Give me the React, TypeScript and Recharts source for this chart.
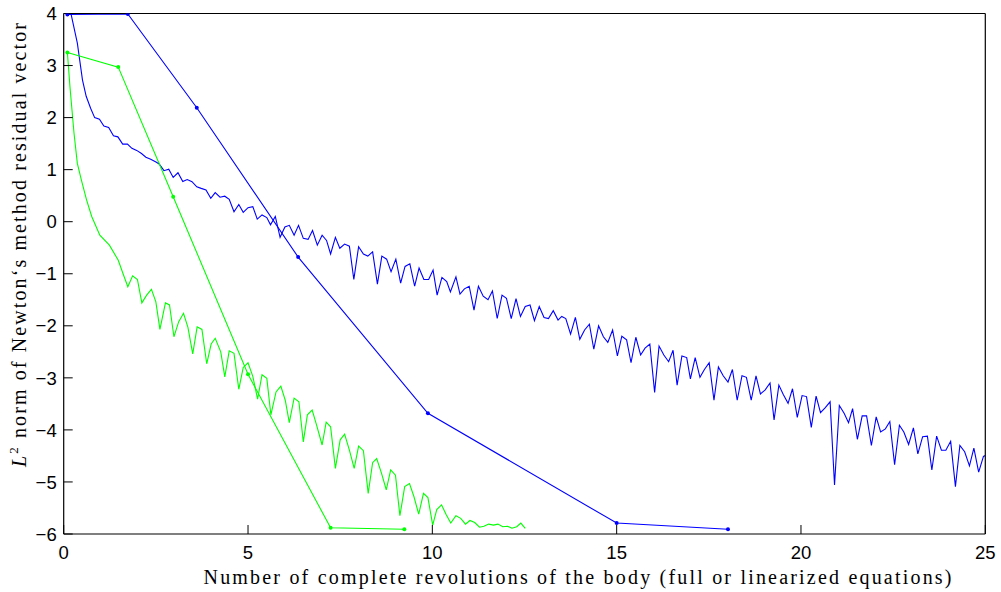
import React from 'react';
import { LineChart, Line, XAxis, YAxis } from 'recharts';

// ---- data (x = revolutions, y = log10 of L2 norm of residual) ----
const xTicks = [0, 5, 10, 15, 20, 25];
const yTicks = [-6, -5, -4, -3, -2, -1, 0, 1, 2, 3, 4];

const blueFull: [number, number][] = [
  [0.1, 3.98], [1.74, 3.99], [3.61, 2.19], [6.36, -0.68], [9.88, -3.68], [15.0, -5.79], [18.02, -5.91],
];

const greenFull: [number, number][] = [
  [0.1, 3.25], [1.48, 2.97], [2.97, 0.48], [5.0, -2.93], [7.24, -5.88], [9.24, -5.91],
];

const blueLinearized: [number, number][] = [
  [0.2, 3.99], [0.37, 3.43], [0.51, 2.72], [0.61, 2.41], [0.73, 2.18], [0.84, 2.0], [0.97, 1.97],
  [1.09, 1.84], [1.22, 1.81], [1.35, 1.65], [1.47, 1.63], [1.6, 1.49], [1.73, 1.49], [1.85, 1.41],
  [1.98, 1.37], [2.11, 1.31], [2.23, 1.24], [2.36, 1.2], [2.49, 1.15], [2.59, 1.11], [2.72, 0.98],
  [2.85, 1.01], [2.97, 0.85], [3.1, 0.94], [3.23, 0.77], [3.35, 0.81], [3.48, 0.77], [3.61, 0.67],
  [3.73, 0.64], [3.86, 0.61], [3.99, 0.45], [4.11, 0.56], [4.24, 0.47], [4.37, 0.49], [4.49, 0.43],
  [4.62, 0.19], [4.75, 0.33], [4.87, 0.18], [5.0, 0.27], [5.13, 0.29], [5.25, 0.05], [5.38, 0.13],
  [5.51, 0.08], [5.61, -0.06], [5.74, 0.1], [5.87, -0.3], [6.0, -0.1], [6.12, -0.07], [6.25, -0.26],
  [6.37, -0.07], [6.5, -0.32], [6.63, -0.34], [6.75, -0.17], [6.88, -0.45], [7.01, -0.26], [7.13, -0.36],
  [7.24, -0.62], [7.37, -0.3], [7.49, -0.51], [7.62, -0.43], [7.75, -0.47], [7.87, -1.11], [8.0, -0.48],
  [8.13, -0.62], [8.25, -0.66], [8.38, -0.58], [8.51, -1.2], [8.63, -0.66], [8.76, -0.72], [8.88, -0.96],
  [9.01, -0.72], [9.14, -1.18], [9.26, -0.86], [9.39, -0.81], [9.52, -1.24], [9.64, -0.89], [9.77, -1.11],
  [9.9, -1.11], [10.02, -0.93], [10.13, -1.41], [10.26, -1.07], [10.39, -1.15], [10.49, -1.35], [10.64, -1.06],
  [10.75, -1.39], [10.87, -1.29], [11.0, -1.24], [11.13, -1.7], [11.25, -1.24], [11.38, -1.43], [11.51, -1.5],
  [11.63, -1.33], [11.76, -1.86], [11.89, -1.41], [12.01, -1.47], [12.14, -1.86], [12.27, -1.48], [12.39, -1.82],
  [12.52, -1.63], [12.65, -1.6], [12.77, -1.9], [12.9, -1.63], [13.03, -1.84], [13.15, -1.86], [13.28, -1.71],
  [13.41, -1.89], [13.51, -1.82], [13.62, -1.86], [13.75, -2.16], [13.88, -1.84], [14.0, -2.26], [14.13, -2.08],
  [14.26, -1.97], [14.38, -2.45], [14.51, -2.0], [14.64, -2.21], [14.76, -2.32], [14.89, -2.08], [15.02, -2.58],
  [15.14, -2.2], [15.27, -2.27], [15.39, -2.71], [15.52, -2.22], [15.65, -2.56], [15.77, -2.43], [15.9, -2.35],
  [16.03, -3.28], [16.15, -2.39], [16.28, -2.56], [16.41, -2.69], [16.53, -2.47], [16.64, -3.14], [16.77, -2.58],
  [16.9, -2.61], [17.0, -3.02], [17.13, -2.61], [17.26, -2.99], [17.38, -2.84], [17.51, -2.71], [17.64, -3.43],
  [17.76, -2.79], [17.89, -2.96], [18.02, -3.08], [18.14, -2.84], [18.27, -3.43], [18.4, -2.96], [18.52, -2.99],
  [18.65, -3.43], [18.78, -2.96], [18.9, -3.31], [19.03, -3.23], [19.16, -3.1], [19.27, -3.81], [19.4, -3.14],
  [19.52, -3.32], [19.65, -3.49], [19.77, -3.21], [19.9, -3.76], [20.03, -3.34], [20.15, -3.36], [20.28, -3.95],
  [20.41, -3.35], [20.53, -3.67], [20.66, -3.57], [20.79, -3.46], [20.91, -5.06], [21.04, -3.53], [21.17, -3.68],
  [21.29, -3.86], [21.4, -3.59], [21.53, -4.18], [21.66, -3.73], [21.78, -3.73], [21.91, -4.3], [22.04, -3.75],
  [22.16, -4.04], [22.29, -3.98], [22.41, -3.84], [22.54, -4.67], [22.67, -3.91], [22.79, -4.04], [22.92, -4.28],
  [23.05, -3.96], [23.17, -4.46], [23.3, -4.13], [23.43, -4.12], [23.55, -4.77], [23.68, -4.12], [23.81, -4.39],
  [23.93, -4.39], [24.06, -4.22], [24.19, -5.09], [24.31, -4.3], [24.44, -4.42], [24.57, -4.69], [24.69, -4.35],
  [24.82, -4.81], [24.95, -4.51], [25.0, -4.49],
];

const greenLinearized: [number, number][] = [
  [0.1, 3.25], [0.17, 2.59], [0.28, 1.7], [0.37, 1.12], [0.48, 0.8], [0.62, 0.42], [0.76, 0.1],
  [0.98, -0.26], [1.24, -0.45], [1.48, -0.74], [1.62, -1.02], [1.74, -1.25], [1.87, -1.04], [2.0, -1.11],
  [2.12, -1.56], [2.25, -1.41], [2.38, -1.3], [2.5, -1.54], [2.61, -2.07], [2.76, -1.56], [2.87, -1.6],
  [2.99, -2.21], [3.12, -1.92], [3.25, -1.76], [3.37, -2.03], [3.5, -2.54], [3.62, -2.02], [3.75, -2.07],
  [3.88, -2.73], [4.0, -2.35], [4.11, -2.24], [4.26, -2.5], [4.37, -2.98], [4.49, -2.48], [4.62, -2.53],
  [4.75, -3.22], [4.87, -2.8], [5.0, -2.71], [5.13, -2.97], [5.26, -3.41], [5.38, -2.94], [5.51, -3.01],
  [5.62, -3.71], [5.76, -3.27], [5.89, -3.16], [6.01, -3.43], [6.12, -3.86], [6.25, -3.39], [6.38, -3.46],
  [6.5, -4.23], [6.61, -3.71], [6.74, -3.62], [6.86, -3.91], [7.01, -4.29], [7.12, -3.85], [7.24, -3.94],
  [7.37, -4.74], [7.5, -4.19], [7.62, -4.08], [7.75, -4.39], [7.88, -4.74], [8.0, -4.31], [8.13, -4.4],
  [8.26, -5.22], [8.38, -4.63], [8.49, -4.55], [8.62, -4.83], [8.75, -5.15], [8.87, -4.77], [9.0, -4.87],
  [9.12, -5.65], [9.25, -5.09], [9.38, -5.03], [9.5, -5.28], [9.63, -5.62], [9.76, -5.22], [9.88, -5.3],
  [10.01, -5.83], [10.12, -5.53], [10.25, -5.44], [10.37, -5.62], [10.5, -5.79], [10.64, -5.65], [10.77, -5.7],
  [10.9, -5.81], [11.02, -5.74], [11.15, -5.78], [11.28, -5.87], [11.4, -5.85], [11.53, -5.81], [11.66, -5.83],
  [11.78, -5.81], [11.91, -5.86], [12.04, -5.85], [12.16, -5.89], [12.29, -5.86], [12.4, -5.79], [12.52, -5.89],
];

const xTitle = 'Number of complete revolutions of the body (full or linearized equations)';
const yTitleRest = ' norm of Newton\u2018s method residual vector';

const toRows = (pairs: [number, number][]) => pairs.map(([x, y]) => ({ x, y }));

const BLUE = '#0000ff';
const GREEN = '#00ff00';
const fmt = (v: number) => String(v).replace('-', '\u2212');
const TICK_FONT = '"Liberation Sans", Arial, Helvetica, sans-serif';
const axisStyle = { stroke: '#000', strokeWidth: 1.2 };
const tickStyle = { stroke: '#000', strokeWidth: 1 };

const BottomTick = (props: any) => {
  const { x, y, payload } = props;
  return (
    <text x={x} y={y} dy="0.71em" textAnchor="middle" fontFamily={TICK_FONT} fontSize={18.5} fill="#000">
      {fmt(payload.value)}
    </text>
  );
};

const LeftTick = (props: any) => {
  const { x, y, payload } = props;
  return (
    <text x={x} y={y} dy="0.36em" textAnchor="end" fontFamily={TICK_FONT} fontSize={18.5} fill="#000">
      {fmt(payload.value)}
    </text>
  );
};

export default function App() {
  return (
    <div style={{ position: 'absolute', left: 0, top: 0, width: 1001, height: 592, background: '#fff' }}>
      <LineChart
        width={1001}
        height={592}
        margin={{ top: 12.5, right: 14.7, bottom: 28, left: 3.7 }}
      >
        <XAxis
          xAxisId="b"
          type="number"
          dataKey="x"
          domain={[0, 25]}
          ticks={xTicks}
          allowDataOverflow
          height={30}
          tickSize={-9}
          tickMargin={21}
          tick={<BottomTick />}
          axisLine={axisStyle}
          tickLine={tickStyle}
        />
        <XAxis
          xAxisId="t"
          orientation="top"
          type="number"
          dataKey="x"
          domain={[0, 25]}
          ticks={xTicks}
          allowDataOverflow
          height={1}
          tickSize={-9}
          tick={false}
          axisLine={axisStyle}
          tickLine={tickStyle}
        />
        <YAxis
          yAxisId="l"
          type="number"
          domain={[-6, 4]}
          ticks={yTicks}
          allowDataOverflow
          width={60}
          tickSize={-9}
          tickMargin={16}
          tick={<LeftTick />}
          axisLine={axisStyle}
          tickLine={tickStyle}
        />
        <YAxis
          yAxisId="r"
          orientation="right"
          type="number"
          domain={[-6, 4]}
          ticks={yTicks}
          allowDataOverflow
          width={1}
          tickSize={-9}
          tick={false}
          axisLine={axisStyle}
          tickLine={tickStyle}
        />
        <Line
          xAxisId="b"
          yAxisId="l"
          data={toRows(blueLinearized)}
          dataKey="y"
          stroke={BLUE}
          strokeWidth={1.1}
          dot={false}
          activeDot={false}
          isAnimationActive={false}
        />
        <Line
          xAxisId="b"
          yAxisId="l"
          data={toRows(greenLinearized)}
          dataKey="y"
          stroke={GREEN}
          strokeWidth={1.1}
          dot={false}
          activeDot={false}
          isAnimationActive={false}
        />
        <Line
          xAxisId="b"
          yAxisId="l"
          data={toRows(greenFull)}
          dataKey="y"
          stroke={GREEN}
          strokeWidth={1.1}
          dot={{ r: 2, fill: GREEN, stroke: GREEN, strokeWidth: 0 }}
          activeDot={false}
          isAnimationActive={false}
        />
        <Line
          xAxisId="t"
          yAxisId="r"
          data={toRows(blueFull)}
          dataKey="y"
          stroke={BLUE}
          strokeWidth={1.1}
          dot={{ r: 2, fill: BLUE, stroke: BLUE, strokeWidth: 0 }}
          activeDot={false}
          isAnimationActive={false}
        />
      </LineChart>
      <svg
        width={1001}
        height={592}
        style={{ position: 'absolute', left: 0, top: 0, pointerEvents: 'none' }}
      >
        <text
          x={203.5}
          y={584}
          fontFamily='"Liberation Serif", "DejaVu Serif", serif'
          fontSize={20}
          fill="#000"
          textLength={748}
          lengthAdjust="spacing"
        >
          {xTitle}
        </text>
        <text
          transform="translate(26,467) rotate(-90)"
          x={0}
          y={0}
          fontFamily='"Liberation Serif", "DejaVu Serif", serif'
          fontSize={20}
          fill="#000"
          textLength={444}
          lengthAdjust="spacing"
        >
          <tspan fontStyle="italic">L</tspan>
          <tspan fontSize={13} dy={-8}>2</tspan>
          <tspan dy={8}>{yTitleRest}</tspan>
        </text>
      </svg>
    </div>
  );
}
